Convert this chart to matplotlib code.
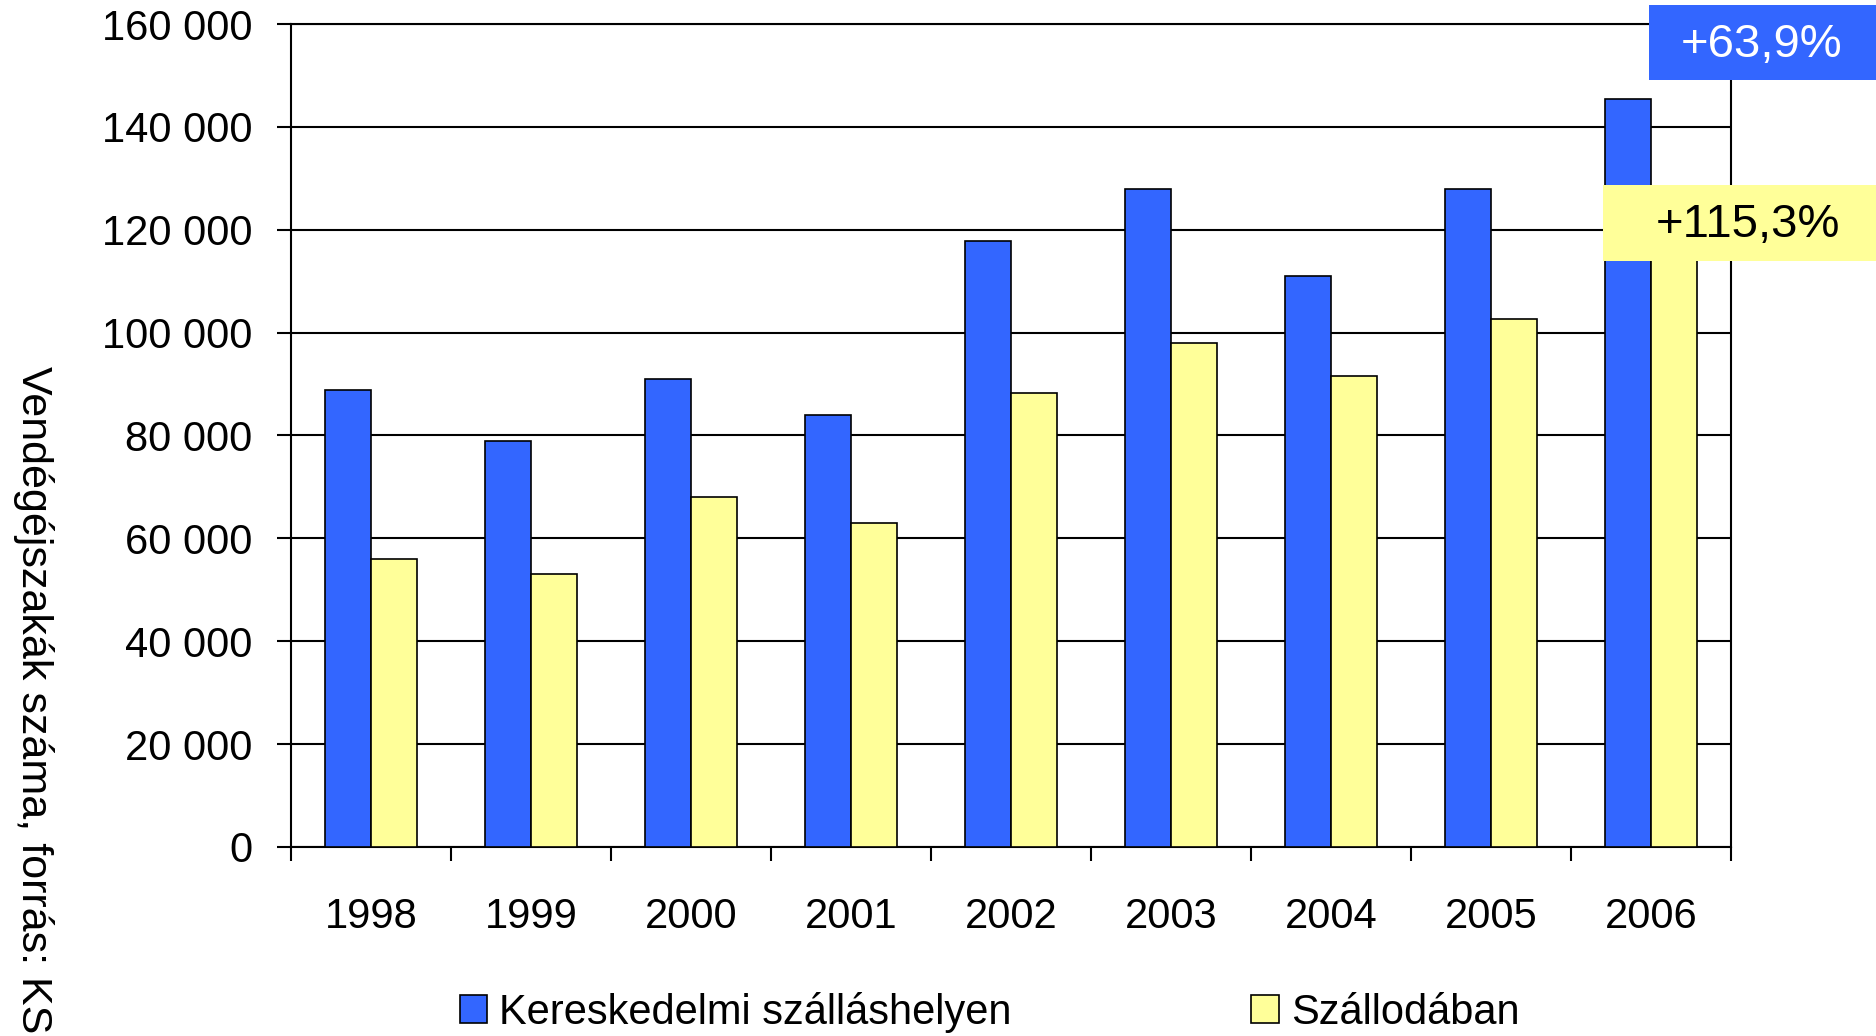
import numpy as np
import matplotlib
matplotlib.use("agg")
import matplotlib.pyplot as plt
from matplotlib.patches import Rectangle, Patch

plt.rcParams['font.family'] = ['Liberation Sans', 'DejaVu Sans']

years = ['1998', '1999', '2000', '2001', '2002', '2003', '2004', '2005', '2006']
kereskedelmi = [88800, 79000, 91000, 84000, 117800, 128000, 111000, 128000, 145500]
szalloda = [56000, 53000, 68000, 63000, 88200, 98000, 91600, 102600, 120600]
yticks = [0, 20000, 40000, 60000, 80000, 100000, 120000, 140000, 160000]
ytick_labels = ['0', '20 000', '40 000', '60 000', '80 000',
                '100 000', '120 000', '140 000', '160 000']
blue_note = '+63,9%'
yellow_note = '+115,3%'

blue = '#3366FF'
yellow = '#FFFF99'

fig = plt.figure(figsize=(18.76, 10.36), dpi=100)
ax = fig.add_axes([0.1551, 0.1825, 0.7676, 0.7943])

x = np.arange(len(years))
w = 0.288
ax.bar(x - w / 2, kereskedelmi, w, color=blue, edgecolor='black', linewidth=1.2, zorder=3)
ax.bar(x + w / 2, szalloda, w, color=yellow, edgecolor='black', linewidth=1.2, zorder=3)

ax.set_xlim(-0.5, len(years) - 0.5)
ax.set_ylim(0, 160000)
ax.set_yticks(yticks)
ax.set_yticklabels(ytick_labels, fontsize=30)
ax.yaxis.grid(True, color='black', linewidth=1.5, zorder=0)
ax.set_axisbelow(True)

# category boundaries get the tick marks, labels sit on the centres
ax.set_xticks(np.arange(len(years) + 1) - 0.5)
ax.set_xticklabels([])
ax.set_xticks(x, minor=True)
ax.set_xticklabels(years, minor=True, fontsize=30)
ax.tick_params(axis='x', which='major', direction='out', length=10, width=1.5)
ax.tick_params(axis='x', which='minor', length=0, pad=36)
ax.tick_params(axis='y', direction='out', length=10, width=1.5, pad=18)

for side in ['left', 'right', 'bottom', 'top']:
    ax.spines[side].set_linewidth(1.5)
    ax.spines[side].set_color('black')

fig.text(0.0179, 1 - 366 / 1036, 'Vendégéjszakák száma, forrás: KS', rotation=270,
         ha='center', va='top', fontsize=31)

handles = [Patch(facecolor=blue, edgecolor='black', linewidth=1.2),
           Patch(facecolor=yellow, edgecolor='black', linewidth=1.2)]
fig.legend(handles, ['Kereskedelmi szálláshelyen', 'Szállodában'], ncol=2,
           loc='center left', bbox_to_anchor=(0.234, 0.023), frameon=False, fontsize=30,
           handlelength=0.65, handleheight=0.65, handletextpad=0.3, columnspacing=5.75,
           borderpad=0)

fig.patches.append(Rectangle((0.879, 0.9228), 0.121, 0.0724, transform=fig.transFigure,
                             facecolor=blue, edgecolor='none', zorder=5))
fig.text(0.939, 0.9565, blue_note, color='white', fontsize=34, ha='center', va='center', zorder=6)
fig.patches.append(Rectangle((0.8545, 0.748), 0.1455, 0.0734, transform=fig.transFigure,
                             facecolor=yellow, edgecolor='none', zorder=5))
fig.text(0.932, 0.783, yellow_note, color='black', fontsize=34, ha='center', va='center', zorder=6)

fig.savefig('out.png', dpi=100)
plt.close(fig)
